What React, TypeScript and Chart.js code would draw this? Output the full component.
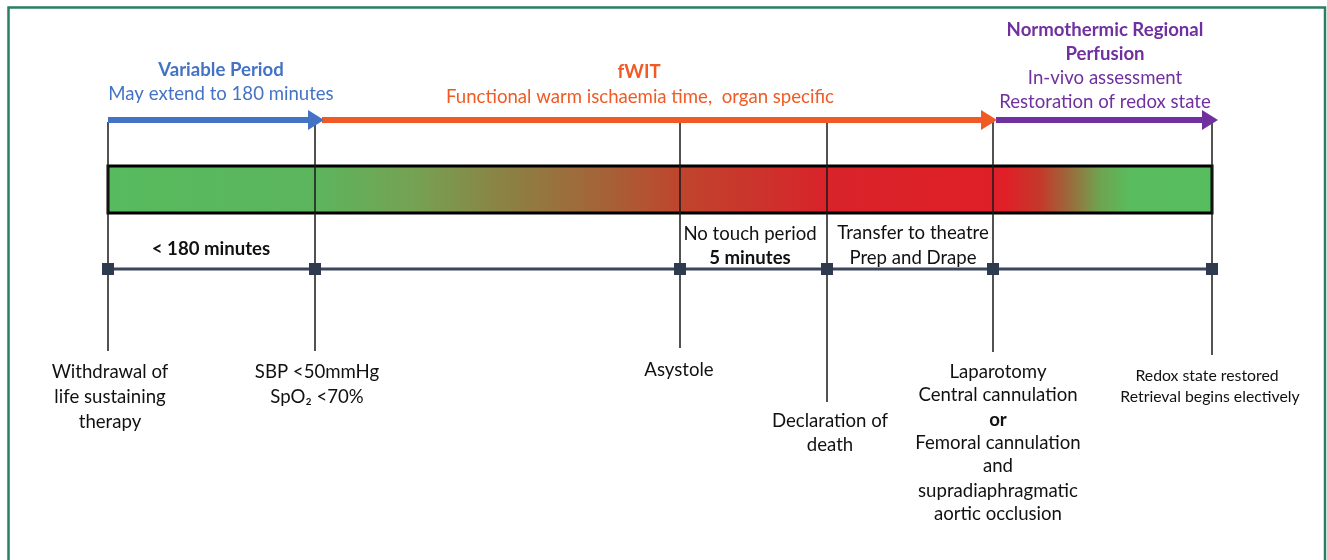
import React, { useEffect, useRef } from "react";
import { Chart, registerables } from "chart.js";

Chart.register(...registerables);

// ---- Data (timeline positions) ----
const eventNames = [
  "Withdrawal of life sustaining therapy",
  "SBP <50mmHg / SpO2 <70%",
  "Asystole",
  "Declaration of death",
  "Laparotomy / cannulation",
  "Redox state restored",
];
const eventX = [108, 315, 680, 827, 993, 1212];
const eventTopY = 122;
const eventBottomY = [351, 351, 348, 402, 352, 355];
const timelineY = 269;

const phaseNames = ["Variable Period", "fWIT", "NRP"];
const phaseStart = [108, 322, 996];
const phaseEnd = [324, 997, 1218];
const phaseY = 120;
const phaseColors = ["#4472C4", "#F15A24", "#7030A0"];

const barStart = 108;
const barEnd = 1212;
const barTop = 166;
const barBottom = 213;
const gradientPos = [108, 315, 420, 500, 600, 680, 827, 1005, 1040, 1070, 1100, 1130, 1212];
const gradientColors = [
  "#57BB5E", "#5CB55D", "#77A052", "#8A8344", "#A46437", "#BF452D",
  "#D8232A", "#E01F27", "#C4392B", "#9A6B3C", "#6FA44F", "#59BC5E", "#57BD5F",
];

type Label = { x: number; y: number; t: string; c: string; b?: boolean; s?: number };

const headerLabels: Label[] = [
  { x: 221, y: 70, t: "Variable Period", c: "#4472C4", b: true },
  { x: 221, y: 94, t: "May extend to 180 minutes", c: "#4472C4" },
  { x: 639, y: 72, t: "fWIT", c: "#F15A24", b: true },
  { x: 640, y: 97, t: "Functional warm ischaemia time,  organ specific", c: "#F15A24" },
  { x: 1105, y: 30, t: "Normothermic Regional", c: "#7030A0", b: true },
  { x: 1105, y: 54, t: "Perfusion", c: "#7030A0", b: true },
  { x: 1105, y: 78, t: "In-vivo assessment", c: "#7030A0" },
  { x: 1105, y: 102, t: "Restoration of redox state", c: "#7030A0" },
];

const intervalLabels: Label[] = [
  { x: 211, y: 249, t: "< 180 minutes", c: "#111", b: true },
  { x: 750, y: 234, t: "No touch period", c: "#111" },
  { x: 750, y: 258, t: "5 minutes", c: "#111", b: true },
  { x: 913, y: 233, t: "Transfer to theatre", c: "#111" },
  { x: 913, y: 258, t: "Prep and Drape", c: "#111" },
];

const eventLabels: Label[] = [
  { x: 110, y: 372, t: "Withdrawal of", c: "#111" },
  { x: 110, y: 397, t: "life sustaining", c: "#111" },
  { x: 110, y: 422, t: "therapy", c: "#111" },
  { x: 317, y: 372, t: "SBP <50mmHg", c: "#111" },
  { x: 317, y: 397, t: "SpO\u2082 <70%", c: "#111" },
  { x: 679, y: 370, t: "Asystole", c: "#111" },
  { x: 830, y: 421, t: "Declaration of", c: "#111" },
  { x: 830, y: 445, t: "death", c: "#111" },
  { x: 998, y: 372, t: "Laparotomy", c: "#111" },
  { x: 998, y: 395, t: "Central cannulation", c: "#111" },
  { x: 998, y: 420, t: "or", c: "#111", b: true },
  { x: 998, y: 443, t: "Femoral cannulation", c: "#111" },
  { x: 998, y: 466, t: "and", c: "#111" },
  { x: 998, y: 491, t: "supradiaphragmatic", c: "#111" },
  { x: 998, y: 514, t: "aortic occlusion", c: "#111" },
  { x: 1207, y: 376, t: "Redox state restored", c: "#111", s: 15.8 },
  { x: 1210, y: 397, t: "Retrieval begins electively", c: "#111", s: 15.8 },
];

const FONT = "Lato, 'Open Sans', sans-serif";
const BASE_SIZE = 18.6;
const HEAD_LEN = 16;
const HEAD_HALF = 10;

const diagramPlugin = {
  id: "diagram",
  beforeDraw(chart: any) {
    const { ctx, width, height } = chart;
    ctx.save();
    ctx.fillStyle = "#ffffff";
    ctx.fillRect(0, 0, width, height);
    ctx.strokeStyle = "#2A7F62";
    ctx.lineWidth = 2.5;
    ctx.strokeRect(8.5, 7.5, width - 2.5 - 8.5 + 0.5, height + 10);
    ctx.restore();
  },
  beforeDatasetsDraw(chart: any) {
    const { ctx } = chart;
    const xs = chart.scales.x;
    const ys = chart.scales.y;
    const l = xs.getPixelForValue(barStart);
    const r = xs.getPixelForValue(barEnd);
    const t = ys.getPixelForValue(barTop);
    const b = ys.getPixelForValue(barBottom);
    const g = ctx.createLinearGradient(l, 0, r, 0);
    gradientPos.forEach((p, i) => {
      g.addColorStop((xs.getPixelForValue(p) - l) / (r - l), gradientColors[i]);
    });
    ctx.save();
    ctx.fillStyle = g;
    ctx.fillRect(l, t, r - l, b - t);
    ctx.strokeStyle = "#000";
    ctx.lineWidth = 3;
    ctx.strokeRect(l, t, r - l, b - t);
    ctx.restore();
  },
  afterDatasetsDraw(chart: any) {
    const { ctx } = chart;
    const xs = chart.scales.x;
    const ys = chart.scales.y;
    ctx.save();
    // arrow heads
    phaseEnd.forEach((e, i) => {
      const tip = xs.getPixelForValue(e);
      const y = ys.getPixelForValue(phaseY);
      ctx.fillStyle = phaseColors[i];
      ctx.beginPath();
      ctx.moveTo(tip, y);
      ctx.lineTo(tip - HEAD_LEN, y - HEAD_HALF);
      ctx.lineTo(tip - HEAD_LEN, y + HEAD_HALF);
      ctx.closePath();
      ctx.fill();
    });
    // labels
    ctx.textAlign = "center";
    ctx.textBaseline = "middle";
    [...headerLabels, ...intervalLabels, ...eventLabels].forEach((lb) => {
      ctx.font = `${lb.b ? "bold " : ""}${lb.s ?? BASE_SIZE}px ${FONT}`;
      ctx.fillStyle = lb.c;
      ctx.fillText(lb.t, xs.getPixelForValue(lb.x), ys.getPixelForValue(lb.y));
    });
    ctx.restore();
  },
};

export default function App() {
  const ref = useRef<HTMLCanvasElement>(null);
  useEffect(() => {
    document.body.style.margin = "0";
    const arrowSets = phaseNames.map((name, i) => ({
      label: name,
      data: [
        { x: phaseStart[i], y: phaseY },
        { x: phaseEnd[i] - HEAD_LEN + 1, y: phaseY },
      ],
      borderColor: phaseColors[i],
      borderWidth: 6,
      pointRadius: 0,
      borderCapStyle: "butt",
    }));
    const verticalData: any[] = [];
    eventX.forEach((x, i) => {
      verticalData.push({ x, y: eventTopY }, { x, y: eventBottomY[i] }, { x, y: null });
    });
    const chart = new Chart(ref.current!, {
      type: "line",
      data: {
        datasets: [
          ...arrowSets,
          {
            label: "Timeline",
            data: eventX.map((x) => ({ x, y: timelineY })),
            borderColor: "#3A475B",
            borderWidth: 3,
            pointStyle: "rect",
            pointRadius: 8.5,
            pointHoverRadius: 8.5,
            pointBackgroundColor: "#2E3A4E",
            pointBorderWidth: 0,
          },
          {
            label: "Events",
            data: verticalData,
            borderColor: "#1a1a1a",
            borderWidth: 1.5,
            pointRadius: 0,
            spanGaps: false,
          },
        ] as any,
      },
      options: {
        responsive: false,
        maintainAspectRatio: false,
        animation: false,
        events: [],
        layout: { padding: 0, autoPadding: false },
        plugins: { legend: { display: false }, tooltip: { enabled: false }, title: { display: false } },
        scales: {
          x: { type: "linear", min: 0, max: 1327, display: false },
          y: { type: "linear", min: 0, max: 560, reverse: true, display: false },
        },
      },
      plugins: [diagramPlugin],
    });
    return () => chart.destroy();
  }, []);
  return (
    <div style={{ width: 1327, height: 560 }}>
      <canvas ref={ref} width={1327} height={560} style={{ display: "block" }} />
    </div>
  );
}
